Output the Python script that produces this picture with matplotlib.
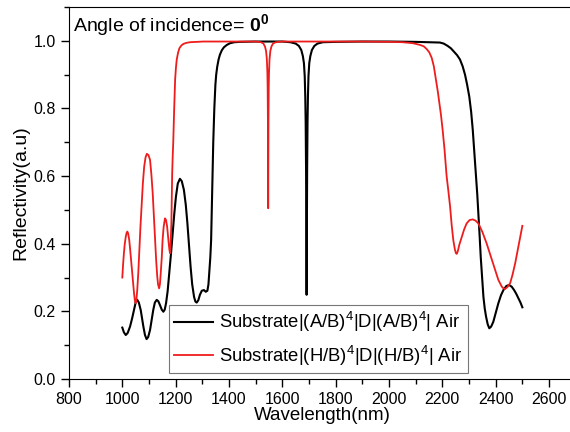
import matplotlib
matplotlib.use('Agg')
import matplotlib.pyplot as plt
from matplotlib.ticker import MultipleLocator

plt.rcParams['font.family'] = ['Liberation Sans', 'DejaVu Sans']
plt.rcParams['mathtext.fontset'] = 'custom'
plt.rcParams['mathtext.rm'] = 'Liberation Sans'
plt.rcParams['mathtext.bf'] = 'Liberation Sans:bold'

# black curve: Substrate|(A/B)^4|D|(A/B)^4| Air
wl_ab = [1000, 1006, 1013, 1020, 1029, 1037, 1044, 1050, 1056, 1062, 1069, 1074,
         1079, 1085, 1091, 1097, 1104, 1110, 1116, 1122, 1129, 1135, 1141, 1148,
         1154, 1159, 1164, 1170, 1176, 1183, 1189, 1195, 1201, 1208, 1216, 1223,
         1231, 1238, 1244, 1250, 1256, 1262, 1269, 1274, 1279, 1285, 1291, 1298,
         1306, 1313, 1319, 1323, 1326, 1330, 1333, 1337, 1341, 1345, 1349, 1352,
         1356, 1361, 1366, 1373, 1381, 1392, 1404, 1420, 1441, 1500, 1600, 1630,
         1650, 1662, 1671, 1677, 1681, 1684, 1686, 1687.5, 1689, 1690, 1691, 1692,
         1693, 1694.5, 1696, 1698, 1701, 1705, 1711, 1720, 1732, 1752, 1800, 1900,
         2000, 2100, 2150, 2191, 2205, 2220, 2232, 2241, 2255, 2266, 2276, 2285,
         2293, 2301, 2308, 2314, 2320, 2326, 2331, 2335, 2340, 2344, 2349, 2354,
         2359, 2364, 2370, 2376, 2383, 2391, 2400, 2410, 2420, 2429, 2440, 2450,
         2460, 2469, 2477, 2485, 2493, 2500]
r_ab = [0.152, 0.138, 0.130, 0.136, 0.155, 0.180, 0.204, 0.226, 0.234, 0.226, 0.204, 0.180,
        0.155, 0.130, 0.118, 0.124, 0.145, 0.175, 0.204, 0.226, 0.234, 0.230, 0.219, 0.205,
        0.199, 0.205, 0.224, 0.260, 0.312, 0.375, 0.431, 0.490, 0.539, 0.578, 0.592, 0.585,
        0.559, 0.515, 0.461, 0.395, 0.332, 0.280, 0.243, 0.229, 0.226, 0.233, 0.249, 0.261,
        0.263, 0.258, 0.261, 0.280, 0.313, 0.360, 0.411, 0.560, 0.700, 0.800, 0.870, 0.900,
        0.924, 0.945, 0.959, 0.972, 0.981, 0.988, 0.993, 0.996, 0.997, 0.998, 0.998, 0.996,
        0.992, 0.985, 0.973, 0.955, 0.934, 0.895, 0.835, 0.760, 0.620, 0.441, 0.249, 0.441,
        0.620, 0.760, 0.835, 0.895, 0.934, 0.955, 0.973, 0.985, 0.992, 0.996, 0.997, 0.998,
        0.998, 0.997, 0.996, 0.995, 0.992, 0.985, 0.978, 0.970, 0.958, 0.945, 0.925, 0.900,
        0.870, 0.835, 0.790, 0.737, 0.670, 0.600, 0.545, 0.490, 0.420, 0.360, 0.300, 0.243,
        0.208, 0.184, 0.162, 0.150, 0.155, 0.169, 0.195, 0.224, 0.248, 0.263, 0.275, 0.278,
        0.273, 0.263, 0.252, 0.239, 0.226, 0.212]

# red curve: Substrate|(H/B)^4|D|(H/B)^4| Air
wl_hb = [1000, 1003, 1006, 1009, 1013, 1016, 1019, 1022, 1026, 1030, 1035, 1040,
         1044, 1047, 1050, 1053, 1056, 1060, 1064, 1068, 1073, 1077, 1082, 1087,
         1092, 1098, 1104, 1109, 1114, 1118, 1123, 1127, 1131, 1134, 1138, 1141,
         1144, 1148, 1151, 1155, 1160, 1164, 1168, 1171, 1174, 1177, 1179, 1181,
         1184, 1187, 1189, 1191, 1194, 1198, 1201, 1204, 1209, 1214, 1221, 1229,
         1240, 1254, 1280, 1304, 1400, 1500, 1520, 1529, 1535, 1539, 1542, 1544,
         1545, 1546, 1546.6, 1547, 1547.4, 1548, 1549, 1550, 1552, 1555, 1559, 1565,
         1575, 1600, 1700, 1800, 1900, 2000, 2050, 2090, 2116, 2130, 2141, 2151,
         2160, 2168, 2176, 2183, 2189, 2195, 2201, 2208, 2216, 2222, 2229, 2235,
         2241, 2247, 2251, 2254, 2258, 2264, 2273, 2282, 2291, 2302, 2314, 2325,
         2335, 2350, 2366, 2382, 2398, 2410, 2423, 2429, 2435, 2444, 2454, 2463,
         2473, 2486, 2500]
r_hb = [0.300, 0.340, 0.372, 0.398, 0.421, 0.432, 0.436, 0.430, 0.411, 0.378, 0.332, 0.285,
        0.253, 0.232, 0.224, 0.236, 0.263, 0.315, 0.382, 0.450, 0.520, 0.578, 0.628, 0.655,
        0.666, 0.662, 0.648, 0.605, 0.549, 0.485, 0.411, 0.350, 0.303, 0.280, 0.268, 0.280,
        0.312, 0.360, 0.411, 0.450, 0.475, 0.470, 0.451, 0.425, 0.401, 0.380, 0.372, 0.395,
        0.461, 0.608, 0.660, 0.700, 0.786, 0.885, 0.920, 0.944, 0.965, 0.978, 0.986, 0.991,
        0.994, 0.996, 0.997, 0.998, 0.998, 0.998, 0.996, 0.992, 0.983, 0.970, 0.945, 0.905,
        0.860, 0.760, 0.630, 0.505, 0.630, 0.760, 0.860, 0.905, 0.945, 0.970, 0.983, 0.992,
        0.996, 0.998, 0.998, 0.998, 0.998, 0.997, 0.996, 0.993, 0.988, 0.984, 0.976, 0.966,
        0.950, 0.925, 0.885, 0.850, 0.816, 0.780, 0.737, 0.680, 0.600, 0.560, 0.510, 0.455,
        0.411, 0.383, 0.372, 0.370, 0.378, 0.398, 0.421, 0.443, 0.460, 0.470, 0.472, 0.468,
        0.460, 0.435, 0.401, 0.362, 0.322, 0.293, 0.273, 0.268, 0.266, 0.272, 0.283, 0.308,
        0.342, 0.395, 0.453]

label_ab = r'Substrate|(A/B)$^4$|D|(A/B)$^4$| Air'
label_hb = r'Substrate|(H/B)$^4$|D|(H/B)$^4$| Air'

fig = plt.figure(figsize=(5.7, 4.32), dpi=100)
ax = fig.add_axes([0.121, 0.1227, 0.889, 0.861])

ax.plot(wl_ab, r_ab, color='black', lw=1.5, label=label_ab)
ax.plot(wl_hb, r_hb, color='#ee1c1c', lw=1.3, label=label_hb)

ax.set_xlim(800, 2700)
ax.set_ylim(0, 1.1)
ax.xaxis.set_major_locator(MultipleLocator(200))
ax.xaxis.set_minor_locator(MultipleLocator(100))
ax.yaxis.set_minor_locator(MultipleLocator(0.1))
ax.tick_params(which='major', direction='out', length=6, width=1, labelsize=11.5)
ax.tick_params(which='minor', direction='out', length=3.5, width=1)
ax.set_yticks([0.0, 0.2, 0.4, 0.6, 0.8, 1.0])
ax.set_yticklabels(['0.0', '0.2', '0.4', '0.6', '0.8', '1.0'])

ax.set_xlabel('Wavelength(nm)', fontsize=13.5, labelpad=0)
ax.set_ylabel('Reflectivity(a.u)', fontsize=14, labelpad=3)

ax.text(0.007, 0.934, r'Angle of incidence= $\mathbf{0^0}$', transform=ax.transAxes,
        fontsize=14, va='baseline', ha='left')

leg = ax.legend(loc='lower left', bbox_to_anchor=(0.197, 0.016), fontsize=13.3,
                frameon=True, fancybox=False, edgecolor='#555555', handlelength=2.1,
                labelspacing=0.5, borderpad=0.3, handletextpad=0.3, borderaxespad=0)
leg.get_frame().set_linewidth(0.8)

plt.savefig('out.png', dpi=100)
plt.close()
